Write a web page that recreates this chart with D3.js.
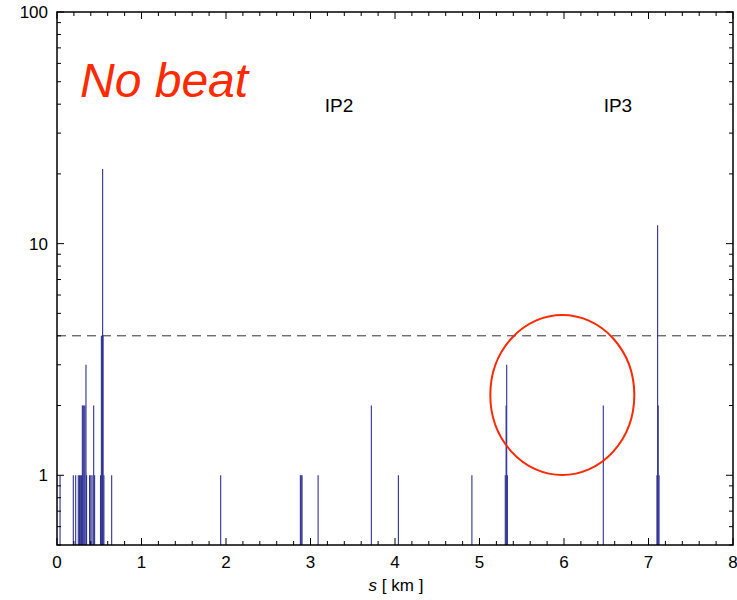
<!DOCTYPE html>
<html>
<head>
<meta charset="utf-8">
<script src="https://cdn.jsdelivr.net/npm/d3@7"></script>
<style>
  body { margin: 0; background: #fff; }
  text { font-family: "Liberation Sans", Arial, sans-serif; }
</style>
</head>
<body>
<script>
// bar positions along the ring (km) and their counts
var sPos = [0.036, 0.193, 0.221, 0.252, 0.266, 0.28, 0.29, 0.30, 0.31, 0.32, 0.33, 0.343, 0.35,
  0.385, 0.40, 0.415, 0.434, 0.445, 0.515, 0.525, 0.535, 0.54, 0.545, 0.555, 0.647,
  1.937, 2.88, 2.89, 2.90, 3.09, 3.72, 4.04, 4.91,
  5.305, 5.315, 5.322, 5.33, 6.465, 7.10, 7.108, 7.115, 7.125];
var counts = [1, 1, 1, 1, 1, 1, 1, 2, 2, 2, 2, 3, 1,
  1, 1, 1, 2, 1, 1, 4, 4, 21, 4, 1, 1,
  1, 1, 1, 1, 1, 2, 1, 1,
  1, 2, 3, 1, 2, 1, 12, 2, 1];
var xTicks = [0, 1, 2, 3, 4, 5, 6, 7, 8];
var yTicks = [1, 10, 100];
var threshold = 4;
var labels = [{ s: 3.35, text: 'IP2' }, { s: 6.65, text: 'IP3' }];

var width = 737, height = 600;
var margin = { top: 12, right: 4, bottom: 55, left: 57 };
var w = width - margin.left - margin.right;
var h = height - margin.top - margin.bottom;

var svg = d3.select('body').append('svg')
  .attr('width', width)
  .attr('height', height);

var g = svg.append('g')
  .attr('transform', 'translate(' + margin.left + ',' + margin.top + ')');

var x = d3.scaleLinear().domain([0, 8]).range([0, w]);
var y = d3.scaleLog().domain([0.5, 100]).range([h, 0]);

var data = sPos.map(function(s, i) { return { s: s, c: counts[i] }; });

// bars
g.selectAll('line.bar')
  .data(data)
  .enter()
  .append('line')
  .attr('class', 'bar')
  .attr('x1', function(d) { return x(d.s); })
  .attr('x2', function(d) { return x(d.s); })
  .attr('y1', h)
  .attr('y2', function(d) { return y(d.c); })
  .attr('stroke', '#2e3192')
  .attr('stroke-width', 1.1);

// threshold line
g.append('line')
  .attr('x1', 0).attr('x2', w)
  .attr('y1', y(threshold)).attr('y2', y(threshold))
  .attr('stroke', '#333')
  .attr('stroke-width', 1)
  .attr('stroke-dasharray', '9,6');

// minor ticks
var xMinor = d3.range(0, 8.001, 0.2);
var yMinor = [];
[0.1, 1, 10].forEach(function(dec) {
  for (var k = 2; k <= 9; k++) {
    var v = dec * k;
    if (v >= 0.5 && v <= 100) yMinor.push(v);
  }
});

var ticks = g.append('g').attr('stroke', '#000').attr('stroke-width', 1);
xMinor.forEach(function(v) {
  var major = Math.abs(v - Math.round(v)) < 1e-6;
  var len = major ? 7 : 4;
  ticks.append('line').attr('x1', x(v)).attr('x2', x(v)).attr('y1', h).attr('y2', h - len);
  ticks.append('line').attr('x1', x(v)).attr('x2', x(v)).attr('y1', 0).attr('y2', len);
});
yTicks.concat(yMinor).forEach(function(v) {
  var len = yTicks.indexOf(v) >= 0 ? 7 : 4;
  ticks.append('line').attr('y1', y(v)).attr('y2', y(v)).attr('x1', 0).attr('x2', len);
  ticks.append('line').attr('y1', y(v)).attr('y2', y(v)).attr('x1', w).attr('x2', w - len);
});

// frame
g.append('rect')
  .attr('width', w).attr('height', h)
  .attr('fill', 'none')
  .attr('stroke', '#000')
  .attr('stroke-width', 1.5);

// tick labels
g.selectAll('text.xl')
  .data(xTicks)
  .enter()
  .append('text')
  .attr('x', function(d) { return x(d); })
  .attr('y', h + 23)
  .attr('text-anchor', 'middle')
  .attr('font-size', 17)
  .text(function(d) { return d; });

g.selectAll('text.yl')
  .data(yTicks)
  .enter()
  .append('text')
  .attr('x', -9)
  .attr('y', function(d) { return y(d); })
  .attr('dy', '0.36em')
  .attr('text-anchor', 'end')
  .attr('font-size', 17)
  .text(function(d) { return d; });

// axis title
var xt = g.append('text')
  .attr('x', w / 2 + 1)
  .attr('y', h + 46)
  .attr('text-anchor', 'middle')
  .attr('font-size', 17);
xt.append('tspan').attr('font-style', 'italic').text('s');
xt.append('tspan').text(' [ km ]');

// annotations
g.append('text')
  .attr('x', 23)
  .attr('y', 85)
  .attr('fill', '#ff2a00')
  .attr('font-style', 'italic')
  .attr('font-size', 48)
  .text('No beat');

g.selectAll('text.ip')
  .data(labels)
  .enter()
  .append('text')
  .attr('x', function(d) { return x(d.s) - 1; })
  .attr('y', 100)
  .attr('text-anchor', 'middle')
  .attr('font-size', 19)
  .text(function(d) { return d.text; });

g.append('ellipse')
  .attr('cx', x(5.98))
  .attr('cy', y(2.22))
  .attr('rx', 72)
  .attr('ry', 80)
  .attr('fill', 'none')
  .attr('stroke', '#ff2a00')
  .attr('stroke-width', 2);
</script>
</body>
</html>
